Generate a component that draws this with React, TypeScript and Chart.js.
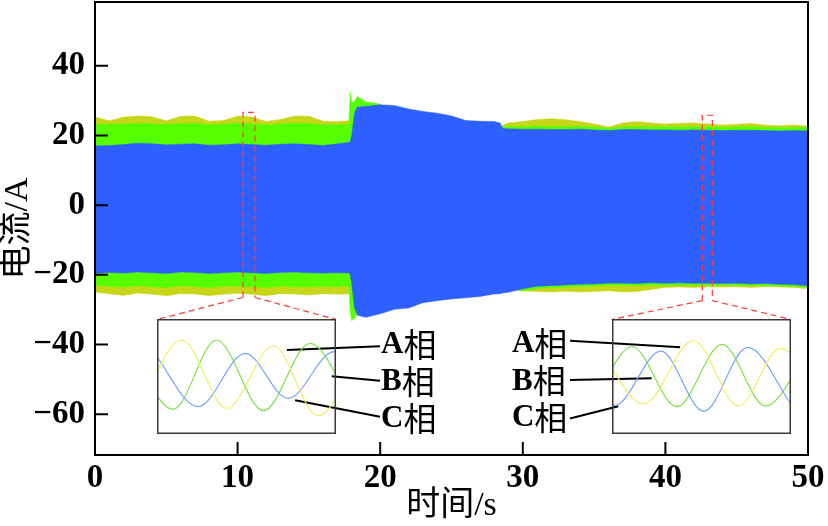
import React, { useEffect, useRef } from 'react';
import { Chart, registerables } from 'chart.js';
Chart.register(...registerables);

// ---------- main chart data (time in s, current envelope in A) ----------
const timeSec = [0,1,2,3,4,5,6,7,8,9,10,11,12,13,14,15,16,17,17.8,17.9,18.0,18.2,18.4,19,20,21,22,23,24,25,26,27,28,28.4,28.6,29,30,31,32,33,34,35,36,37,38,39,40,41,42,43,44,45,46,47,48,49,50];

const phaseAUpper = [25.3,24.2,25.3,25.6,25.4,24.2,25.5,25.6,24.1,24.3,25.6,25.3,24.0,24.6,25.6,25.5,24.1,24.0,24.2,24.0,23.5,22.0,22.0,22,22,22,22,22,22,22,22,22,22,22.0,23.0,23.6,24.0,24.6,24.8,24.5,24.0,23.3,22.4,23.6,24.0,23.6,23.3,23.5,23.6,23.3,23.0,23.2,23.4,23.0,22.8,23.0,22.7];
const phaseALower = [-25.0,-25.4,-25.9,-25.2,-25.6,-26.0,-25.4,-25.5,-26.0,-25.6,-25.3,-25.6,-26.0,-25.4,-25.5,-25.8,-25.4,-25.6,-25.5,-25.6,-26.0,-25.0,-24,-24,-24,-24,-24,-24,-24,-24,-24,-24,-24,-24,-24,-24,-24.6,-24.8,-24.9,-24.7,-24.9,-24.8,-24.6,-24.9,-24.8,-24.2,-23.6,-23.5,-23.6,-23.4,-23.5,-23.4,-23.6,-23.4,-23.5,-23.6,-24.0];

const phaseCUpper = [23.3,23.2,23.3,23.5,23.3,23.2,23.4,23.5,23.1,23.2,23.5,23.3,23.0,23.3,23.5,23.4,23.1,23.0,23.2,32.5,29.5,29.8,31.2,29.6,29.0,22,22,22,22,22,22,22,22,22,22.4,22.6,22.5,22.7,22.6,22.5,22.6,22.4,22.1,22.5,22.6,22.4,22.5,22.4,22.5,22.4,22.3,22.4,22.5,22.3,22.2,22.3,22.2];
const phaseCLower = [-23.0,-23.3,-23.5,-23.2,-23.4,-23.6,-23.2,-23.4,-23.6,-23.3,-23.3,-23.5,-23.6,-23.3,-23.4,-23.5,-23.3,-23.4,-23.2,-30.5,-33.2,-32.5,-31.0,-28,-26,-24,-24,-24,-24,-24,-24,-24,-24,-24,-24,-24,-24.6,-23.9,-23.6,-23.5,-23.3,-23.2,-23.0,-23.0,-23.1,-22.9,-23.0,-22.9,-23.0,-22.9,-23.0,-22.9,-23.1,-23.0,-23.2,-23.3,-23.6];

const phaseBUpper = [17.0,17.1,17.4,17.8,17.6,17.3,17.5,17.6,17.2,17.3,17.6,17.4,17.2,17.5,17.6,17.4,17.1,17.6,18.0,18.2,20.0,26.5,28.2,28.3,28.8,28.6,27.6,26.9,26.4,25.6,24.3,24.1,24.0,23.6,22.0,21.9,21.8,21.8,21.7,21.7,21.8,21.6,21.4,21.7,21.7,21.6,21.6,21.5,21.6,21.5,21.4,21.5,21.5,21.4,21.3,21.4,21.3];
const phaseBLower = [-19.6,-19.3,-19.5,-19.2,-19.4,-19.6,-19.2,-19.3,-19.6,-19.4,-19.2,-19.4,-19.6,-19.3,-19.2,-19.4,-19.5,-19.4,-19.5,-20.0,-22.5,-29.5,-31.6,-32.2,-31.2,-29.9,-29.5,-28.0,-27.4,-26.9,-26.6,-26.2,-25.5,-25.4,-25.2,-25.0,-24.0,-23.3,-23.1,-22.9,-22.7,-22.6,-22.4,-22.4,-22.5,-22.3,-22.4,-22.3,-22.4,-22.4,-22.5,-22.4,-22.6,-22.5,-22.7,-22.8,-23.2];

const xTickValues = [0, 10, 20, 30, 40, 50];
const yTickValues = [-60, -40, -20, 0, 20, 40];

// ---------- inset data (time in ms, current in A) ----------
const leftAms = [-4.3, 5.5, 15.6, 26.0, 36.0, 46.0];
const leftAval = [-24, 25.4, -22.1, 21.4, -27.3, 22];
const leftBms = [-0.8, 9.2, 19.7, 29.3, 39.6, 49.5];
const leftBval = [17, -21.0, 16.1, -15.2, 17.3, -17];
const leftCms = [-6.6, 3.6, 13.3, 23.8, 34.2, 44.2];
const leftCval = [24, -22.8, 25.4, -23.8, 23.1, -23];

const rightAms = [-3.0, 7.06, 18.2, 28.3, 37.6, 47.5];
const rightAval = [20, -19.1, 24.9, -20.5, 19.6, -20];
const rightBms = [-9.2, 0.6, 10.9, 20.5, 30.3, 40.4];
const rightBval = [18, -20, 17.7, -24.2, 20.2, -21];
const rightCms = [-4.6, 4.47, 14.5, 24.6, 34.3, 44.4];
const rightCval = [-21, 20.7, -21.0, 22.4, -20.5, 21];

const phaseNames = ['A相', 'B相', 'C相'];

// ---------- annotation placement (main-chart data coordinates) ----------
const zoomMarks = [
  { x0: 10.38, x1: 11.22, yTop: 26.6, yBot: -26.5 },
  { x0: 42.59, x1: 43.29, yTop: 25.8, yBot: -27.4 },
];
const insetBoxes = [
  { x0: 4.35, x1: 16.9, y0: -32.8, y1: -65.8 },
  { x0: 36.23, x1: 48.8, y0: -32.8, y1: -65.8 },
];
const leaderLines = [
  [13.46, -41.6, 19.99, -40.5],
  [16.6, -49.1, 19.99, -50.4],
  [14.03, -56.0, 19.99, -60.7],
  [41.03, -40.8, 33.31, -38.9],
  [39.04, -49.7, 33.31, -50.2],
  [36.7, -57.7, 33.31, -61.2],
];
const labelGroups = [
  { x: 20.06, ys: [-39.9, -50.5, -61.1] },
  { x: 29.24, ys: [-39.6, -50.4, -60.9] },
];

const COL_B = '#2e60ff';
const COL_C = '#55ff00';
const COL_A = '#c8d61a';
const SERIF = "'Liberation Serif', 'Times New Roman', serif";
const CJK = "'Noto Sans CJK SC', sans-serif";

const pts = (xs: number[], ys: number[]) => xs.map((x, i) => ({ x, y: ys[i] }));

const band = (upper: number[], lower: number[], color: string) => [
  { data: pts(timeSec, upper), fill: '+1', backgroundColor: color, borderColor: color, borderWidth: 0.5, pointRadius: 0 },
  { data: pts(timeSec, lower), fill: false, backgroundColor: color, borderColor: color, borderWidth: 0.5, pointRadius: 0 },
];

const mainPlugin = {
  id: 'mainDecor',
  afterDraw(chart: any) {
    const { ctx, chartArea: a, scales } = chart;
    const xs = scales.x, ys = scales.y;
    const X = (v: number) => xs.getPixelForValue(v);
    const Y = (v: number) => ys.getPixelForValue(v);
    ctx.save();
    // red dashed zoom markers
    ctx.strokeStyle = '#ff3b3b';
    ctx.lineWidth = 1.2;
    ctx.setLineDash([6, 4]);
    zoomMarks.forEach((z, i) => {
      const b = insetBoxes[i];
      ctx.beginPath();
      ctx.moveTo(X(z.x0), Y(z.yBot));
      ctx.lineTo(X(z.x0), Y(z.yTop));
      ctx.lineTo(X(z.x1), Y(z.yTop));
      ctx.lineTo(X(z.x1), Y(z.yBot));
      ctx.moveTo(X(z.x0), Y(z.yBot));
      ctx.lineTo(X(b.x0), Y(b.y0));
      ctx.moveTo(X(z.x1), Y(z.yBot));
      ctx.lineTo(X(b.x1), Y(b.y0));
      ctx.stroke();
    });
    ctx.setLineDash([]);
    // leader lines
    ctx.strokeStyle = '#000';
    ctx.lineWidth = 2;
    leaderLines.forEach(([x0, y0, x1, y1]) => {
      ctx.beginPath();
      ctx.moveTo(X(x0), Y(y0));
      ctx.lineTo(X(x1), Y(y1));
      ctx.stroke();
    });
    // phase labels
    ctx.fillStyle = '#000';
    ctx.textBaseline = 'middle';
    ctx.textAlign = 'left';
    labelGroups.forEach((g) => {
      g.ys.forEach((yv, i) => {
        const name = phaseNames[i];
        const px = X(g.x), py = Y(yv);
        ctx.font = `bold 31px ${SERIF}`;
        const latin = name.slice(0, 1);
        ctx.fillText(latin, px, py + 1);
        const w = ctx.measureText(latin).width;
        ctx.font = `33px ${CJK}`;
        ctx.fillText(name.slice(1), px + w, py);
      });
    });
    // frame
    ctx.strokeStyle = '#000';
    ctx.lineWidth = 2;
    ctx.strokeRect(a.left, a.top, a.right - a.left, a.bottom - a.top);
    // inward ticks
    ctx.beginPath();
    xs.ticks.forEach((t: any) => {
      const p = X(t.value);
      ctx.moveTo(p, a.bottom);
      ctx.lineTo(p, a.bottom - 13);
    });
    ys.ticks.forEach((t: any) => {
      const p = Y(t.value);
      ctx.moveTo(a.left, p);
      ctx.lineTo(a.left + 13, p);
    });
    ctx.stroke();
    ctx.restore();
  },
};

const insetBorder = {
  id: 'insetBorder',
  afterDraw(chart: any) {
    const { ctx, width, height } = chart;
    ctx.save();
    ctx.strokeStyle = '#3a3a3a';
    ctx.lineWidth = 1.5;
    ctx.strokeRect(0.75, 0.75, width - 1.5, height - 1.5);
    ctx.restore();
  },
};

const wave = (xs: number[], ys: number[], color: string) => ({
  data: pts(xs, ys),
  borderColor: color,
  borderWidth: 1.2,
  pointRadius: 0,
  fill: false,
  cubicInterpolationMode: 'monotone',
});

export default function App() {
  const mainRef = useRef<HTMLCanvasElement>(null);
  const inset1Ref = useRef<HTMLCanvasElement>(null);
  const inset2Ref = useRef<HTMLCanvasElement>(null);

  useEffect(() => {
    const main = new Chart(mainRef.current as HTMLCanvasElement, {
      type: 'line',
      data: {
        datasets: [
          ...band(phaseBUpper, phaseBLower, COL_B),
          ...band(phaseCUpper, phaseCLower, COL_C),
          ...band(phaseAUpper, phaseALower, COL_A),
        ] as any,
      },
      options: {
        responsive: false,
        animation: false,
        devicePixelRatio: 1,
        layout: { padding: { left: 0, top: 2, right: 20, bottom: 0 } },
        plugins: { legend: { display: false }, tooltip: { enabled: false } },
        elements: { line: { tension: 0 } },
        scales: {
          x: {
            type: 'linear',
            min: 0,
            max: 50,
            grid: { display: false, drawTicks: false },
            border: { display: false },
            afterBuildTicks: (s: any) => { s.ticks = xTickValues.map((v) => ({ value: v })); },
            afterFit: (s: any) => { s.height = 71; s.paddingLeft = 0; s.paddingRight = 0; },
            ticks: {
              padding: 4,
              maxRotation: 0,
              color: '#000',
              font: { family: SERIF, size: 33, weight: 'bold' },
              callback: (v: any) => String(v),
            },
            title: {
              display: true,
              text: '时间/s',
              color: '#000',
              padding: { top: 0, bottom: 0 },
              font: { family: `'Liberation Serif', ${CJK}`, size: 34 },
            },
          },
          y: {
            min: -71.7,
            max: 58.3,
            grid: { display: false, drawTicks: false },
            border: { display: false },
            afterBuildTicks: (s: any) => { s.ticks = yTickValues.map((v) => ({ value: v })); },
            afterFit: (s: any) => { s.width = 95; s.paddingTop = 0; s.paddingBottom = 0; },
            ticks: {
              padding: 10,
              color: '#000',
              font: { family: SERIF, size: 33, weight: 'bold' },
              callback: (v: any) => (v < 0 ? '\u2212' + Math.abs(v) : String(v)),
            },
            title: {
              display: true,
              text: '电流/A',
              color: '#000',
              padding: { top: -2, bottom: 0 },
              font: { family: `'Liberation Serif', ${CJK}`, size: 34 },
            },
          },
        },
      } as any,
      plugins: [mainPlugin],
    });

    const xs: any = main.scales.x;
    const ys: any = main.scales.y;
    const makeInset = (canvas: HTMLCanvasElement, box: any, datasets: any[]) => {
      const l = xs.getPixelForValue(box.x0);
      const r = xs.getPixelForValue(box.x1);
      const t = ys.getPixelForValue(box.y0);
      const b = ys.getPixelForValue(box.y1);
      const w = Math.round(r - l);
      const h = Math.round(b - t);
      canvas.style.left = Math.round(l) + 'px';
      canvas.style.top = Math.round(t) + 'px';
      canvas.style.width = w + 'px';
      canvas.style.height = h + 'px';
      canvas.width = w;
      canvas.height = h;
      return new Chart(canvas, {
        type: 'line',
        data: { datasets },
        options: {
          responsive: false,
          animation: false,
          devicePixelRatio: 1,
          layout: { padding: 0 },
          plugins: { legend: { display: false }, tooltip: { enabled: false } },
          scales: {
            x: { type: 'linear', min: 0, max: 40, display: false },
            y: { min: -40, max: 40, display: false },
          },
        } as any,
        plugins: [insetBorder],
      });
    };

    const c1 = makeInset(inset1Ref.current as HTMLCanvasElement, insetBoxes[0], [
      wave(leftAms, leftAval, '#eef060'),
      wave(leftBms, leftBval, '#78a0ff'),
      wave(leftCms, leftCval, '#7ee04a'),
    ]);
    const c2 = makeInset(inset2Ref.current as HTMLCanvasElement, insetBoxes[1], [
      wave(rightAms, rightAval, '#eef060'),
      wave(rightBms, rightBval, '#78a0ff'),
      wave(rightCms, rightCval, '#7ee04a'),
    ]);

    return () => {
      c1.destroy();
      c2.destroy();
      main.destroy();
    };
  }, []);

  return (
    <div style={{ position: 'absolute', left: 0, top: 0, width: 828, height: 526, background: '#fff', overflow: 'hidden' }}>
      <canvas ref={mainRef} width={828} height={526} style={{ position: 'absolute', left: 0, top: 0 }} />
      <canvas ref={inset1Ref} style={{ position: 'absolute' }} />
      <canvas ref={inset2Ref} style={{ position: 'absolute' }} />
    </div>
  );
}
